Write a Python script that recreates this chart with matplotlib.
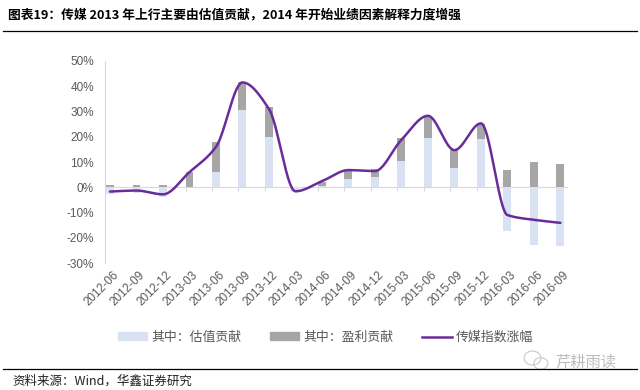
import numpy as np
import matplotlib
matplotlib.use('Agg')
import matplotlib.pyplot as plt
from matplotlib.lines import Line2D
from matplotlib.patches import Patch, Ellipse

# data (percent)
dates = ['2012-06', '2012-09', '2012-12', '2013-03', '2013-06', '2013-09',
         '2013-12', '2014-03', '2014-06', '2014-09', '2014-12', '2015-03',
         '2015-06', '2015-09', '2015-12', '2016-03', '2016-06', '2016-09']
valuation = [-2.7, -2.3, -3.8, 0.0, 6.2, 30.5, 20.0, -1.0, 0.5, 3.3,
             4.0, 10.3, 19.5, 7.7, 19.1, -17.2, -22.8, -23.2]
profit = [1.0, 1.0, 1.0, 5.9, 11.8, 11.0, 11.7, 0.0, 1.7, 3.3,
          3.3, 9.2, 8.2, 7.1, 5.9, 6.9, 9.9, 9.1]
index_chg = [-1.7, -1.3, -2.8, 6.0, 16.0, 41.5, 31.0, -1.6, 2.4, 6.8,
             6.4, 18.8, 28.3, 14.7, 25.3, -11.0, -12.9, -14.1]
yticks = [-30, -20, -10, 0, 10, 20, 30, 40, 50]

BLUE = '#D9E2F3'
GRAY = '#A6A6A6'
PURPLE = '#6A2C9A'
AXIS = '#D9D9D9'
TXT = '#595959'

plt.rcParams['font.family'] = ['Liberation Sans', 'Noto Sans CJK SC', 'DejaVu Sans']


def smooth(xs, ys, n=40):
    # monotone cubic (Fritsch-Carlson), extremes stay on the data points
    xs = np.asarray(xs, float)
    ys = np.asarray(ys, float)
    h = np.diff(xs)
    d = np.diff(ys) / h
    m = np.zeros_like(ys)
    m[0], m[-1] = d[0], d[-1]
    for i in range(1, len(ys) - 1):
        if d[i - 1] * d[i] > 0:
            w1 = 2 * h[i] + h[i - 1]
            w2 = h[i] + 2 * h[i - 1]
            m[i] = (w1 + w2) / (w1 / d[i - 1] + w2 / d[i])
    ox, oy = [], []
    t = np.linspace(0, 1, n)
    for i in range(len(ys) - 1):
        h00 = 2 * t**3 - 3 * t**2 + 1
        h10 = t**3 - 2 * t**2 + t
        h01 = -2 * t**3 + 3 * t**2
        h11 = t**3 - t**2
        ox.extend(xs[i] + t * h[i])
        oy.extend(h00 * ys[i] + h10 * h[i] * m[i] + h01 * ys[i + 1] + h11 * h[i] * m[i + 1])
    return np.array(ox), np.array(oy)


fig = plt.figure(figsize=(6.4, 3.9), dpi=100)
ax = fig.add_axes([0.164, 0.3256, 0.722, 0.518])

x = np.arange(len(dates))
val = np.array(valuation)
pro = np.array(profit)
# stack profit on top of positive valuation, otherwise from zero
base = np.where(val > 0, val, 0)
ax.bar(x, val, width=0.3, color=BLUE, zorder=2)
ax.bar(x, pro, width=0.3, bottom=base, color=GRAY, zorder=2)

sx, sy = smooth(x, index_chg)
ax.plot(sx, sy, color=PURPLE, lw=1.8, zorder=3, solid_capstyle='round')

ax.set_xlim(-0.19, 17.25)
ax.set_ylim(-30, 50)
ax.set_yticks(yticks)
ax.set_yticklabels([f'{v}%' for v in yticks], color=TXT, fontsize=8.5)
ax.tick_params(axis='y', length=0, pad=8)

for s in ['top', 'right']:
    ax.spines[s].set_visible(False)
ax.spines['left'].set_color(AXIS)
ax.spines['bottom'].set_color(AXIS)
ax.spines['bottom'].set_position(('data', 0))
ax.spines['bottom'].set_zorder(1)
ax.set_xticks(x - 0.15)
ax.tick_params(axis='x', length=3, color=AXIS, labelbottom=False)

# category labels sit at the bottom of the plot
sec = ax.secondary_xaxis('bottom')
sec.spines['bottom'].set_visible(False)
sec.set_xticks(x + 0.1)
sec.set_xticklabels(dates, rotation=45, ha='right', rotation_mode='anchor',
                    color=TXT, fontsize=8.5)
sec.tick_params(length=0, pad=4)

cjk = ['Noto Sans CJK SC', 'DejaVu Sans']
handles = [Patch(color=BLUE), Patch(color=GRAY),
           Line2D([], [], color=PURPLE, lw=1.8)]
leg = fig.legend(handles, ['其中：估值贡献', '其中：盈利贡献', '传媒指数涨幅'],
                 loc='center', bbox_to_anchor=(0.508, 0.135), ncol=3,
                 frameon=False, handlelength=2.3, handleheight=0.55,
                 handletextpad=0.3, columnspacing=2.2,
                 prop={'family': cjk, 'size': 9.3})
for t in leg.get_texts():
    t.set_color(TXT)

fig.text(0.012, 0.963, '图表19：传媒 2013 年上行主要由估值贡献，2014 年开始业绩因素解释力度增强',
         family=cjk, fontsize=9.2, fontweight='heavy', va='center', ha='left')
fig.add_artist(Line2D([0.005, 0.995], [0.921, 0.921], color='black', lw=0.9))
fig.add_artist(Line2D([0.005, 0.995], [0.054, 0.054], color='black', lw=0.9))
fig.text(0.02, 0.023, '资料来源：Wind，华鑫证券研究', family=cjk, fontsize=9,
         va='center', ha='left', color='#222222')

# watermark
fig.add_artist(Ellipse((0.832, 0.082), 0.026, 0.036, fill=False,
                       ec='#C8C8C8', lw=0.8, transform=fig.transFigure))
fig.add_artist(Ellipse((0.845, 0.068), 0.022, 0.030, fill=False,
                       ec='#C8C8C8', lw=0.8, transform=fig.transFigure))
fig.text(0.868, 0.072, '芹耕雨读', family=cjk, fontsize=11, color='#BDBDBD',
         va='center', ha='left', style='italic')

fig.savefig('out.png', dpi=100)
